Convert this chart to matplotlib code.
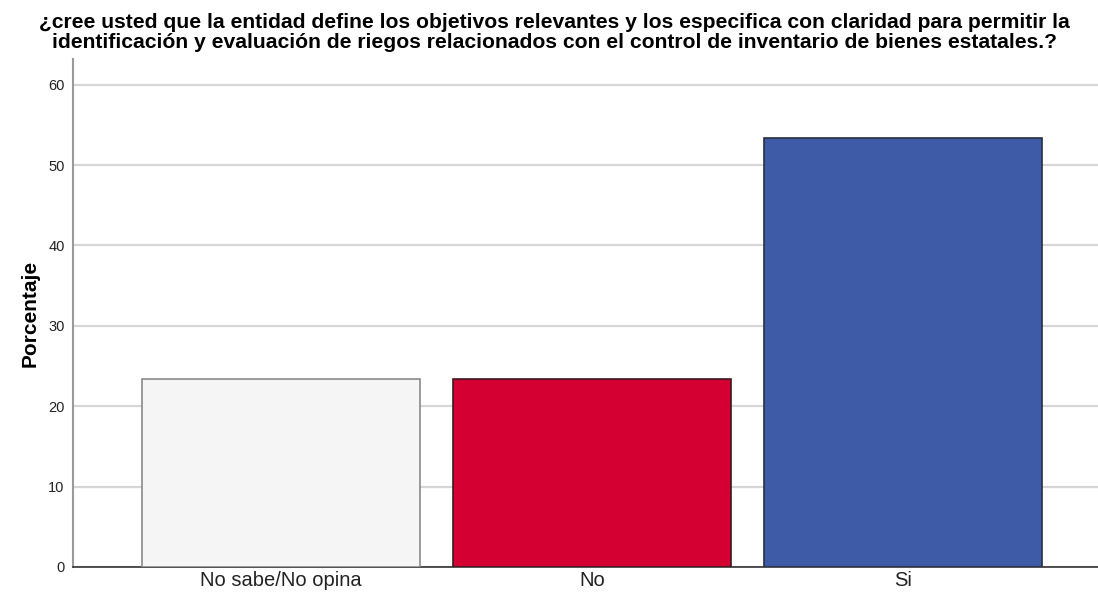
import matplotlib.pyplot as plt

# Survey answers (percent of respondents)
categorias = ['No sabe/No opina', 'No', 'Si']
porcentajes = [23.33, 23.33, 53.33]
colores = ['#f5f5f5', '#d50032', '#3e5ba8']
bordes = ['#8a8a8a', '#3a1a20', '#2a2f40']
ticks_y = [0, 10, 20, 30, 40, 50, 60]

titulo = ('¿cree usted que la entidad define los objetivos relevantes y los especifica con claridad para permitir la\n'
          'identificación y evaluación de riegos relacionados con el control de inventario de bienes estatales.?')

plt.rcParams['font.family'] = ['Liberation Sans', 'DejaVu Sans']

fig = plt.figure(figsize=(10.98, 5.98), dpi=100)
ax = fig.add_axes([73 / 1098, 1 - 567 / 598, 1 - 73 / 1098 + 0.012, (567 - 59) / 598])

x = range(len(categorias))
ax.bar(x, porcentajes, width=0.895, color=colores, edgecolor=bordes, linewidth=1.2, zorder=3)

ax.set_xlim(-0.67, 2.67)
ax.set_ylim(0, 63.2)
ax.set_yticks(ticks_y)
ax.set_xticks(list(x))
ax.set_xticklabels(categorias, fontsize=14.5, color='#222222')
ax.tick_params(axis='y', labelsize=10.5, length=0, pad=6, colors='#222222')
ax.tick_params(axis='x', length=0, pad=3)
ax.yaxis.grid(True, color='#d6d6d6', linewidth=1.6, zorder=0)
ax.set_axisbelow(True)

for s in ['top', 'right']:
    ax.spines[s].set_visible(False)
ax.spines['left'].set_color('#9a9a9a')
ax.spines['left'].set_linewidth(1.5)
ax.spines['bottom'].set_color('#333333')
ax.spines['bottom'].set_linewidth(1.2)

ax.set_ylabel('Porcentaje', fontsize=15, fontweight='bold', labelpad=6)
fig.text(554 / 1098, 1 - 32.5 / 598, titulo, ha='center', va='center', fontsize=15.2,
         fontweight='bold', linespacing=1.05)

fig.savefig('out.png', dpi=100)
